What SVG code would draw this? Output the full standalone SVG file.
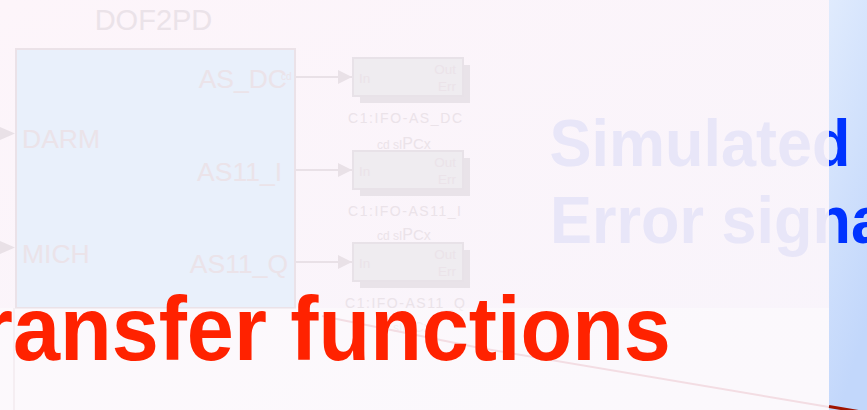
<svg xmlns="http://www.w3.org/2000/svg" width="867" height="410" viewBox="0 0 867 410">
  <defs>
    <linearGradient id="bg" x1="0" y1="0" x2="1" y2="1">
      <stop offset="0" stop-color="#fdf5fa"/>
      <stop offset="1" stop-color="#f8f4fb"/>
    </linearGradient>
    <linearGradient id="panel" x1="0" y1="0" x2="0.3" y2="1">
      <stop offset="0" stop-color="#e0ebfd"/>
      <stop offset="1" stop-color="#c2d7fb"/>
    </linearGradient>
    <clipPath id="panelClip">
      <rect x="829" y="0" width="38" height="410"/>
    </clipPath>
    <marker id="arrow" viewBox="0 0 14 14" refX="14" refY="7" markerWidth="14" markerHeight="14" markerUnits="userSpaceOnUse" orient="auto">
      <path d="M0,0 L14,7 L0,14 z" fill="#e9e1e7"/>
    </marker>
    <style>
      .lbl { font-family: "Liberation Sans", Arial, sans-serif; fill: #ebe3e9; }
      .port { font-size: 26.5px; }
      .small { font-size: 13.5px; }
      .cap { font-size: 14px; }
      .cds { font-size: 12px; }
      .wire { stroke: #e9e1e7; stroke-width: 2; fill: none; }
      .box { fill: #efecf0; stroke: #e8e2e8; stroke-width: 2; }
      .shadow { fill: #e9e3e9; }
      .big { font-family: "Liberation Sans", Arial, sans-serif; font-weight: bold; font-size: 67px; }
    </style>
  </defs>

  <!-- slide background -->
  <rect x="0" y="0" width="867" height="410" fill="url(#bg)"/>

  <!-- DOF2PD subsystem -->
  <g id="dof2pd">
    <text class="lbl" x="153.5" y="30" font-size="29" text-anchor="middle">DOF2PD</text>
    <rect x="16" y="49" width="279" height="259" fill="#e9f0fb" stroke="#ebe2e8" stroke-width="2"/>
    <text class="lbl port" x="22" y="148">DARM</text>
    <text class="lbl port" x="22" y="263">MICH</text>
    <text class="lbl port" x="287" y="88" text-anchor="end">AS_DC</text>
    <text class="lbl port" x="282" y="181" text-anchor="end">AS11_I</text>
    <text class="lbl port" x="288" y="273" text-anchor="end">AS11_Q</text>
    <text class="lbl" x="281" y="80" font-size="10">cd</text>
  </g>

  <!-- connectors -->
  <g id="connectors">
    <path d="M0,127 L15,133.5 L0,140 z" fill="#e9e1e7"/>
    <path d="M0,241 L15,247.5 L0,254 z" fill="#e9e1e7"/>
    <line class="wire" x1="296" y1="77" x2="352" y2="77" marker-end="url(#arrow)"/>
    <line class="wire" x1="296" y1="170" x2="352" y2="170" marker-end="url(#arrow)"/>
    <line class="wire" x1="296" y1="262" x2="352" y2="262" marker-end="url(#arrow)"/>
  </g>

  <!-- readout blocks -->
  <g id="ifo-as-dc">
    <rect class="shadow" x="360" y="65" width="110" height="38"/>
    <rect class="box" x="353" y="58" width="110" height="38"/>
    <text class="lbl small" x="359" y="83">In</text>
    <text class="lbl small" x="456" y="74" text-anchor="end">Out</text>
    <text class="lbl small" x="456" y="91" text-anchor="end">Err</text>
    <text class="lbl cap" x="348" y="123" textLength="114" lengthAdjust="spacing">C1:IFO-AS_DC</text>
    <text class="lbl cds" x="377" y="149">cd sI<tspan font-size="16">P</tspan><tspan font-size="15">C</tspan><tspan font-size="14">x</tspan></text>
  </g>
  <g id="ifo-as11-i">
    <rect class="shadow" x="360" y="158" width="110" height="38"/>
    <rect class="box" x="353" y="151" width="110" height="38"/>
    <text class="lbl small" x="359" y="176">In</text>
    <text class="lbl small" x="456" y="167" text-anchor="end">Out</text>
    <text class="lbl small" x="456" y="184" text-anchor="end">Err</text>
    <text class="lbl cap" x="348" y="216" textLength="113" lengthAdjust="spacing">C1:IFO-AS11_I</text>
    <text class="lbl cds" x="377" y="240">cd sI<tspan font-size="16">P</tspan><tspan font-size="15">C</tspan><tspan font-size="14">x</tspan></text>
  </g>
  <g id="ifo-as11-q">
    <rect class="shadow" x="360" y="250" width="110" height="38"/>
    <rect class="box" x="353" y="243" width="110" height="38"/>
    <text class="lbl small" x="359" y="268">In</text>
    <text class="lbl small" x="456" y="259" text-anchor="end">Out</text>
    <text class="lbl small" x="456" y="276" text-anchor="end">Err</text>
    <text class="lbl cap" x="345" y="308" textLength="120" lengthAdjust="spacing">C1:IFO-AS11_Q</text>
    <text class="lbl cds" x="377" y="332">cd sI<tspan font-size="16">P</tspan><tspan font-size="15">C</tspan><tspan font-size="14">x</tspan></text>
  </g>

  <!-- faint lines below the block -->
  <line x1="14" y1="308" x2="14" y2="410" stroke="#efe3ea" stroke-width="2"/>

  <!-- lighter band behind the title -->
  <rect x="0" y="308" width="829" height="102" fill="#ffffff" opacity="0.4"/>

  <path d="M322,316 L480,348 L829,407" fill="none" stroke="#f3dde3" stroke-width="2"/>

  <!-- faded heading -->
  <g id="heading-faded" class="big" fill="#e8e6f8">
    <text transform="translate(549.5,166) scale(0.94,1)">Simulated</text>
    <text transform="translate(550,243) scale(0.94,1)">Error signa</text>
  </g>

  <!-- right panel -->
  <rect x="829" y="0" width="38" height="410" fill="url(#panel)"/>
  <g id="heading-panel" class="big" fill="#0033ff" clip-path="url(#panelClip)">
    <text transform="translate(549.5,166) scale(0.94,1)">Simulated</text>
    <text transform="translate(550,243) scale(0.94,1)">Error signa</text>
  </g>
  <line x1="829" y1="406.5" x2="875" y2="414.3" stroke="#a01400" stroke-width="3"/>

  <!-- title -->
  <text transform="translate(-67,360) scale(0.94,1)" font-family="Liberation Sans, Arial, sans-serif" font-weight="bold" font-size="90" fill="#ff2200">Transfer functions</text>
</svg>
